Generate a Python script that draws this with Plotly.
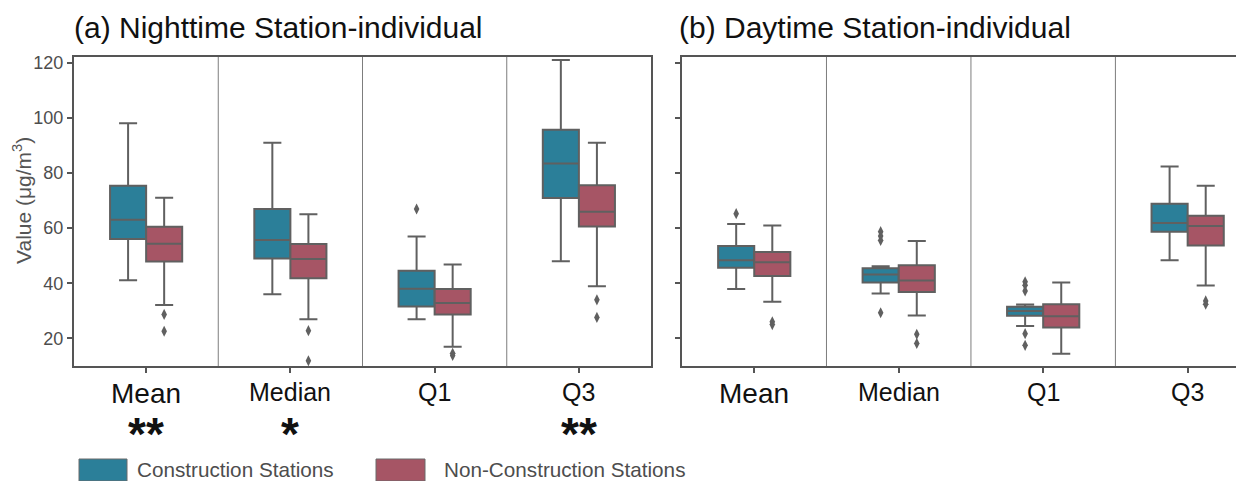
import plotly.graph_objects as go

# ---------------- data ----------------
categories = ["Mean", "Median", "Q1", "Q3"]
significance = ["**", "*", "", "**"]
groups = ["Construction Stations", "Non-Construction Stations"]
y_ticks = [20, 40, 60, 80, 100, 120]

# (a) Nighttime - Construction Stations
night_con_q1 = [56.0, 49.0, 31.6, 70.9]
night_con_med = [63.0, 55.7, 38.0, 83.4]
night_con_q3 = [75.3, 66.9, 44.5, 95.6]
night_con_lo = [41.1, 36.0, 26.9, 48.0]
night_con_hi = [98.0, 90.9, 56.9, 120.9]
night_con_out = [[], [], [66.9], []]

# (a) Nighttime - Non-Construction Stations
night_non_q1 = [47.9, 41.8, 28.7, 60.6]
night_non_med = [54.3, 48.8, 32.8, 65.9]
night_non_q3 = [60.5, 54.2, 37.9, 75.5]
night_non_lo = [32.1, 26.9, 17.0, 38.9]
night_non_hi = [71.0, 65.0, 46.8, 90.9]
night_non_out = [[28.7, 22.6], [22.8, 11.9], [14.6, 13.8], [34.0, 27.6]]

# (b) Daytime - Construction Stations
day_con_q1 = [45.6, 40.3, 28.2, 58.7]
day_con_med = [48.3, 43.2, 29.9, 61.8]
day_con_q3 = [53.5, 45.4, 31.5, 68.8]
day_con_lo = [37.9, 36.3, 24.5, 48.3]
day_con_hi = [61.5, 46.2, 32.3, 82.3]
day_con_out = [[65.2], [58.7, 57.1, 55.5, 29.3], [40.5, 39.3, 37.2, 21.7, 17.5], []]

# (b) Daytime - Non-Construction Stations
day_non_q1 = [42.6, 36.8, 24.0, 53.7]
day_non_med = [47.6, 41.0, 28.0, 60.7]
day_non_q3 = [51.3, 46.5, 32.4, 64.5]
day_non_lo = [33.3, 28.3, 14.4, 39.2]
day_non_hi = [60.9, 55.3, 40.3, 75.3]
day_non_out = [[26.0, 25.0], [21.5, 18.2], [], [33.6, 32.4]]

# ---------------- style ----------------
TEAL = "#2b7f99"
RED = "#a65565"
LINE = "#606060"
FRAME = "#555555"
DIV = "#7d7d7d"
FONT = "Liberation Sans, Arial, Helvetica, sans-serif"

OFF = 8  # page body margin of the browser
W, H = 1244 - OFF, 481 - OFF
# plot area in page pixels: left 74, top 57, bottom 366
ML, MT = 74 - OFF, 57 - OFF
MB = H - (366 - OFF)
MR = 0
PW = W - ML - MR
PH = H - MT - MB


def px_x(p):  # page pixel -> paper x
    return (p - OFF - ML) / PW


def px_y(p):  # page pixel -> paper y
    return (H - MB - (p - OFF)) / PH


fig = go.Figure()

panels = [
    ("x", "y", [
        (night_con_q1, night_con_med, night_con_q3, night_con_lo, night_con_hi, night_con_out, -0.125, TEAL),
        (night_non_q1, night_non_med, night_non_q3, night_non_lo, night_non_hi, night_non_out, 0.125, RED),
    ]),
    ("x2", "y2", [
        (day_con_q1, day_con_med, day_con_q3, day_con_lo, day_con_hi, day_con_out, -0.125, TEAL),
        (day_non_q1, day_non_med, day_non_q3, day_non_lo, day_non_hi, day_non_out, 0.125, RED),
    ]),
]

for xa, ya, series in panels:
    for gi, (q1, med, q3, lo, hi, outs, off, color) in enumerate(series):
        pos = [i + off for i in range(len(categories))]
        fig.add_trace(go.Box(
            x=pos, q1=q1, median=med, q3=q3, lowerfence=lo, upperfence=hi,
            width=0.25, whiskerwidth=0.5, fillcolor=color,
            line=dict(color=LINE, width=2), boxpoints=False,
            name=groups[gi], showlegend=False, xaxis=xa, yaxis=ya,
        ))
        ox, oy = [], []
        for i, vals in enumerate(outs):
            ox += [i + off] * len(vals)
            oy += vals
        fig.add_trace(go.Scatter(
            x=ox, y=oy, mode="markers",
            marker=dict(symbol="diamond-tall", size=8, color=LINE),
            showlegend=False, xaxis=xa, yaxis=ya,
        ))

# category dividers
shapes = []
for xr, yr in [("x", "y domain"), ("x2", "y2 domain")]:
    for k in range(len(categories) - 1):
        shapes.append(dict(type="line", xref=xr, yref=yr, x0=k + 0.5, x1=k + 0.5,
                           y0=0, y1=1, line=dict(color=DIV, width=1), layer="below"))

# legend swatches
legend_items = [(79, 127, 135, TEAL, groups[0]), (376, 425, 442, RED, groups[1])]
annotations = []
for x0, x1, xt, col, label in legend_items:
    shapes.append(dict(type="rect", xref="paper", yref="paper",
                       x0=px_x(x0), x1=px_x(x1), y0=px_y(481), y1=px_y(459),
                       fillcolor=col, line=dict(color="#6b6b6b", width=1)))
    annotations.append(dict(xref="paper", yref="paper", x=px_x(xt), y=px_y(469),
                            xanchor="left", yanchor="middle", showarrow=False,
                            text=label, font=dict(family=FONT, size=20.7, color="#4d4d4d")))

# titles
annotations.append(dict(xref="paper", yref="paper", x=px_x(72), y=px_y(46),
                        xanchor="left", yanchor="bottom", showarrow=False,
                        text="(a) Nighttime Station-individual",
                        font=dict(family=FONT, size=30, color="#111111")))
annotations.append(dict(xref="paper", yref="paper", x=px_x(677), y=px_y(46),
                        xanchor="left", yanchor="bottom", showarrow=False,
                        text="(b) Daytime Station-individual",
                        font=dict(family=FONT, size=30, color="#111111")))

# y-axis title
annotations.append(dict(xref="paper", yref="paper", x=px_x(22), y=px_y(201),
                        xanchor="center", yanchor="middle", showarrow=False, textangle=-90,
                        text="Value (μg/m<sup>3</sup>)",
                        font=dict(family=FONT, size=21, color="#555555")))

# category labels and significance stars
for xr, stars in [("x", True), ("x2", False)]:
    for i, cat in enumerate(categories):
        annotations.append(dict(xref=xr, yref="paper", x=i, y=px_y(376),
                                xanchor="center", yanchor="top", showarrow=False,
                                text=cat,
                                font=dict(family=FONT, size=28 if cat == "Mean" else 25, color="#111111")))
        if stars and significance[i]:
            annotations.append(dict(xref=xr, yref="paper", x=i, y=px_y(406),
                                    xanchor="center", yanchor="top", showarrow=False,
                                    text="<b>" + significance[i] + "</b>",
                                    font=dict(family=FONT, size=46, color="#111111")))

axis_common = dict(showgrid=False, zeroline=False, showline=True, linecolor=FRAME,
                   linewidth=2, ticks="outside", ticklen=5, tickwidth=1.5, tickcolor=FRAME)

fig.update_layout(
    width=W, height=H,
    margin=dict(l=ML, r=MR, t=MT, b=MB),
    paper_bgcolor="white", plot_bgcolor="white",
    font=dict(family=FONT),
    showlegend=False,
    boxmode="overlay",
    xaxis=dict(domain=[0, px_x(651)], range=[-0.5, 3.5], tickvals=[0, 1, 2, 3],
               showticklabels=False, mirror=True, anchor="y", **axis_common),
    yaxis=dict(domain=[0, 1], range=[10, 122], tickvals=y_ticks, mirror=True, anchor="x",
               tickfont=dict(family=FONT, size=18, color="#4d4d4d"), **axis_common),
    xaxis2=dict(domain=[px_x(682), 1], range=[-0.5, 3.39], tickvals=[0, 1, 2, 3],
                showticklabels=False, mirror=True, anchor="y2", **axis_common),
    yaxis2=dict(domain=[0, 1], range=[10, 122], tickvals=y_ticks, showticklabels=False,
                mirror=False, anchor="x2", **axis_common),
    shapes=shapes,
    annotations=annotations,
)

fig.write_html("out.html")
